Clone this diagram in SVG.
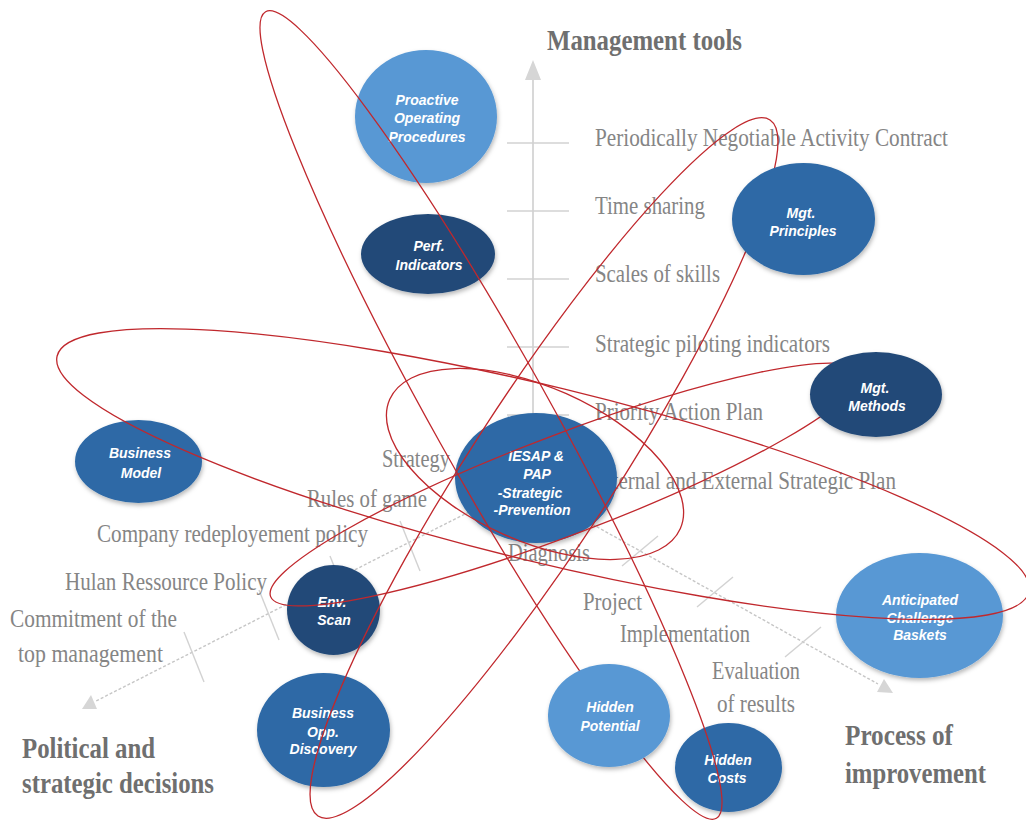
<svg xmlns="http://www.w3.org/2000/svg" width="1026" height="821" viewBox="0 0 1026 821">
  <defs>
    <style>
      .lbl{font-family:"Liberation Serif","Times New Roman",serif;font-size:26px;fill:#858585}
      .hdr{font-family:"Liberation Serif","Times New Roman",serif;font-size:30px;font-weight:bold;fill:#6f6f6f}
      .axis{stroke:#d8d8d8;stroke-width:2;fill:none}
      .dash{stroke:#c6c6c6;stroke-width:1.4;stroke-dasharray:3 2;fill:none}
      .tick{stroke:#d2d2d2;stroke-width:1.4}
      .arrow{fill:#d6d6d6}
      .light{fill:#5898d4}
      .mid{fill:#2d69a6}
      .dark{fill:#244a78}
      .node ellipse{filter:url(#shadow)}
      .node text{font-family:"Liberation Sans",Arial,sans-serif;font-style:italic;font-weight:bold;font-size:14px;fill:#ffffff;text-anchor:middle}
      .orbit{fill:none;stroke:#c0282d;stroke-width:1.3}
    </style>
    <filter id="shadow" x="-20%" y="-20%" width="140%" height="150%">
      <feDropShadow dx="1" dy="2.5" stdDeviation="2" flood-color="#000000" flood-opacity="0.28"/>
    </filter>
  </defs>

  <rect width="1026" height="821" fill="#ffffff"/>

  <!-- axes -->
  <g id="axes">
    <line class="axis" x1="533" y1="76" x2="533" y2="478"/>
    <polygon class="arrow" points="533,60 525,80 541,80"/>
    <line class="tick" x1="507" y1="143" x2="569" y2="143"/>
    <line class="tick" x1="507" y1="211" x2="569" y2="211"/>
    <line class="tick" x1="507" y1="279" x2="569" y2="279"/>
    <line class="tick" x1="507" y1="347" x2="569" y2="347"/>
    <line class="tick" x1="507" y1="415" x2="569" y2="415"/>

    <line class="dash" x1="536" y1="478" x2="96" y2="701"/>
    <polygon class="arrow" points="82,709 97,709 91,695"/>
    <line class="tick" x1="400" y1="521" x2="420" y2="571"/>
    <line class="tick" x1="330" y1="556" x2="350" y2="606"/>
    <line class="tick" x1="259" y1="590" x2="279" y2="640"/>
    <line class="tick" x1="184" y1="632" x2="204" y2="682"/>

    <line class="dash" x1="540" y1="495" x2="878" y2="684"/>
    <polygon class="arrow" points="893,693 877,692 884,679"/>
    <line class="tick" x1="622" y1="566" x2="658" y2="536"/>
    <line class="tick" x1="697" y1="607" x2="733" y2="577"/>
    <line class="tick" x1="785" y1="657" x2="821" y2="627"/>
  </g>

  <!-- axis titles -->
  <g id="titles">
    <text class="hdr" x="547" y="50" textLength="195" lengthAdjust="spacingAndGlyphs">Management tools</text>
    <text class="hdr" x="22" y="758" textLength="133" lengthAdjust="spacingAndGlyphs">Political and</text>
    <text class="hdr" x="22" y="793" textLength="192" lengthAdjust="spacingAndGlyphs">strategic decisions</text>
    <text class="hdr" x="845" y="745" textLength="108" lengthAdjust="spacingAndGlyphs">Process of</text>
    <text class="hdr" x="845" y="783" textLength="141" lengthAdjust="spacingAndGlyphs">improvement</text>
  </g>

  <!-- axis labels -->
  <g id="labels">
    <text class="lbl" x="595" y="146" textLength="353" lengthAdjust="spacingAndGlyphs">Periodically Negotiable Activity Contract</text>
    <text class="lbl" x="595" y="214" textLength="110" lengthAdjust="spacingAndGlyphs">Time sharing</text>
    <text class="lbl" x="595" y="282" textLength="125" lengthAdjust="spacingAndGlyphs">Scales of skills</text>
    <text class="lbl" x="595" y="352" textLength="235" lengthAdjust="spacingAndGlyphs">Strategic piloting indicators</text>
    <text class="lbl" x="595" y="420" textLength="168" lengthAdjust="spacingAndGlyphs">Priority Action Plan</text>
    <text class="lbl" x="595" y="489" textLength="301" lengthAdjust="spacingAndGlyphs">Internal and External Strategic Plan</text>

    <text class="lbl" x="382" y="467" textLength="68" lengthAdjust="spacingAndGlyphs">Strategy</text>
    <text class="lbl" x="307" y="507" textLength="120" lengthAdjust="spacingAndGlyphs">Rules of game</text>
    <text class="lbl" x="97" y="542" textLength="271" lengthAdjust="spacingAndGlyphs">Company redeployement policy</text>
    <text class="lbl" x="65" y="590" textLength="202" lengthAdjust="spacingAndGlyphs">Hulan Ressource Policy</text>
    <text class="lbl" x="10" y="627" textLength="167" lengthAdjust="spacingAndGlyphs">Commitment of the</text>
    <text class="lbl" x="18" y="662" textLength="145" lengthAdjust="spacingAndGlyphs">top management</text>

    <text class="lbl" x="508" y="561" textLength="82" lengthAdjust="spacingAndGlyphs">Diagnosis</text>
    <text class="lbl" x="583" y="610" textLength="59" lengthAdjust="spacingAndGlyphs">Project</text>
    <text class="lbl" x="620" y="642" textLength="130" lengthAdjust="spacingAndGlyphs">Implementation</text>
    <text class="lbl" x="712" y="679" textLength="88" lengthAdjust="spacingAndGlyphs">Evaluation</text>
    <text class="lbl" x="717" y="712" textLength="78" lengthAdjust="spacingAndGlyphs">of results</text>
  </g>

  <!-- nodes lying under the orbits -->
  <g id="node-proactive" class="node">
    <ellipse class="light" cx="426" cy="116.5" rx="71" ry="66.5"/>
    <text x="427" y="105">Proactive</text>
    <text x="427" y="123">Operating</text>
    <text x="427" y="142">Procedures</text>
  </g>
  <g id="node-perf" class="node">
    <ellipse class="dark" cx="428" cy="254" rx="67" ry="40"/>
    <text x="429" y="251">Perf.</text>
    <text x="429" y="270">Indicators</text>
  </g>
  <g id="node-business-model" class="node">
    <ellipse class="mid" cx="138.5" cy="461.5" rx="63.5" ry="41.5"/>
    <text x="140" y="458">Business</text>
    <text x="141" y="478">Model</text>
  </g>
  <g id="node-iesap" class="node">
    <ellipse class="mid" cx="536" cy="478" rx="81" ry="65"/>
    <text x="536" y="461">IESAP &amp;</text>
    <text x="537" y="479">PAP</text>
    <text x="530" y="498">-Strategic</text>
    <text x="532" y="515">-Prevention</text>
  </g>
  <g id="node-env-scan" class="node">
    <ellipse class="dark" cx="333.5" cy="610" rx="46.5" ry="45"/>
    <text x="332" y="607">Env.</text>
    <text x="334" y="625">Scan</text>
  </g>
  <g id="node-business-opp" class="node">
    <ellipse class="mid" cx="323.5" cy="730" rx="66.5" ry="57"/>
    <text x="323" y="718">Business</text>
    <text x="323" y="737">Opp.</text>
    <text x="323" y="754">Discovery</text>
  </g>
  <g id="node-hidden-costs" class="node">
    <ellipse class="mid" cx="728.5" cy="767.5" rx="53.5" ry="44.5"/>
    <text x="728" y="765">Hidden</text>
    <text x="727" y="783">Costs</text>
  </g>
  <g id="node-anticipated" class="node">
    <ellipse class="light" cx="919.5" cy="615.5" rx="83.5" ry="62.5"/>
    <text x="920" y="605">Anticipated</text>
    <text x="920" y="623">Challenge</text>
    <text x="920" y="640">Baskets</text>
  </g>

  <!-- orbits -->
  <g id="orbits">
    <ellipse class="orbit" cx="491" cy="415" rx="462" ry="58" transform="rotate(60.8 491 415)"/>
    <ellipse class="orbit" cx="544" cy="468" rx="415" ry="72" transform="rotate(123 544 468)"/>
    <ellipse class="orbit" cx="565" cy="484.5" rx="315" ry="50" transform="rotate(-20.85 565 484.5)"/>
    <ellipse class="orbit" cx="535" cy="464" rx="159" ry="77" transform="rotate(24 535 464)"/>
    <ellipse class="orbit" cx="543" cy="474" rx="500" ry="87.5" transform="rotate(13.65 543 474)"/>
  </g>

  <!-- nodes lying over the orbits -->
  <g id="node-mgt-principles" class="node">
    <ellipse class="mid" cx="803.5" cy="219" rx="71.5" ry="56"/>
    <text x="801" y="218">Mgt.</text>
    <text x="803" y="236">Principles</text>
  </g>
  <g id="node-mgt-methods" class="node">
    <ellipse class="dark" cx="876" cy="394.5" rx="66" ry="42.5"/>
    <text x="875" y="393">Mgt.</text>
    <text x="877" y="411">Methods</text>
  </g>
  <g id="node-hidden-potential" class="node">
    <ellipse class="light" cx="609" cy="715.5" rx="61" ry="51.5"/>
    <text x="610" y="712">Hidden</text>
    <text x="610" y="731">Potential</text>
  </g>
</svg>
